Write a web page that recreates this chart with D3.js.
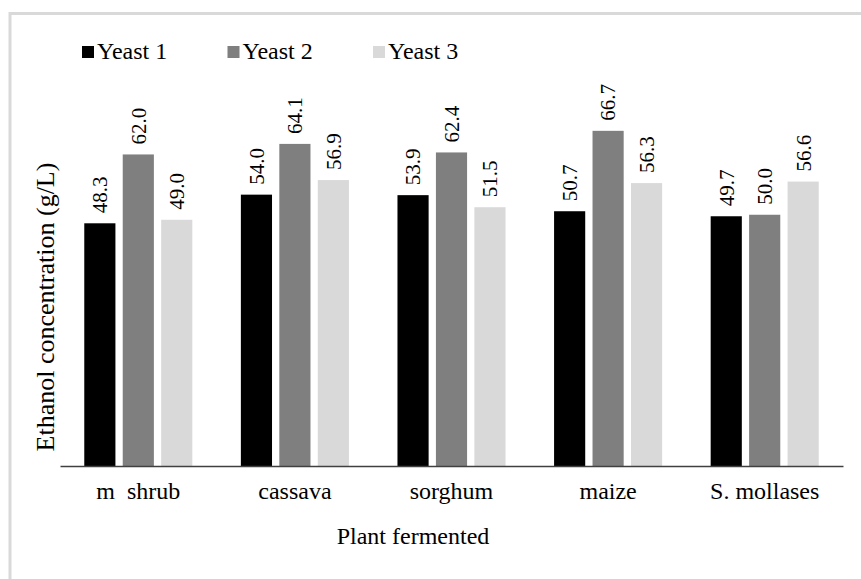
<!DOCTYPE html>
<html>
<head>
<meta charset="utf-8">
<script src="https://cdn.jsdelivr.net/npm/d3@7/dist/d3.min.js"></script>
<style>
  body { margin: 0; background: #fff; }
  svg text { font-family: "Liberation Serif", "DejaVu Serif", serif !important; fill: #000; }
</style>
</head>
<body>
<div class="container"></div>
<script>
const plants = ["m  shrub", "cassava", "sorghum", "maize", "S. mollases"]
const yeasts = ["Yeast 1", "Yeast 2", "Yeast 3"]
const yeast1 = [48.3, 54.0, 53.9, 50.7, 49.7]
const yeast2 = [62.0, 64.1, 62.4, 66.7, 50.0]
const yeast3 = [49.0, 56.9, 51.5, 56.3, 56.6]
const colors = ["#000000", "#7f7f7f", "#d9d9d9"]

const w = 861
const h = 579
const plotLeft = 60
const plotRight = 843
const plotBottom = 466
const plotTop = 64

const svg = d3.select(".container")
              .append("svg")
              .attr("width", w)
              .attr("height", h)

// chart border
svg.append("rect")
   .attr("x", 10)
   .attr("y", 13.5)
   .attr("width", 900)
   .attr("height", 700)
   .attr("fill", "none")
   .attr("stroke", "#d9d9d9")
   .attr("stroke-width", 3)

const rows = plants.map((p, i) => ({plant: p, values: [yeast1[i], yeast2[i], yeast3[i]]}))

const x0 = d3.scaleBand()
             .domain(plants)
             .range([plotLeft, plotRight])
             .paddingInner(0.31)
             .paddingOuter(0.155)

const x1 = d3.scaleBand()
             .domain(yeasts)
             .range([0, x0.bandwidth()])
             .paddingInner(0.19)

const yScale = d3.scaleLinear()
                 .domain([0, 80])
                 .range([plotBottom, plotTop])

const groups = svg.selectAll("g.group")
                  .data(rows)
                  .enter()
                  .append("g")
                  .attr("class", "group")
                  .attr("transform", d => "translate(" + x0(d.plant) + ",0)")

groups.selectAll("rect")
      .data(d => d.values.map((v, i) => ({yeast: yeasts[i], value: v, i: i})))
      .enter()
      .append("rect")
      .attr("x", d => x1(d.yeast))
      .attr("y", d => yScale(d.value))
      .attr("width", x1.bandwidth())
      .attr("height", d => plotBottom - yScale(d.value))
      .attr("fill", d => colors[d.i])

groups.selectAll("text")
      .data(d => d.values.map((v, i) => ({yeast: yeasts[i], value: v})))
      .enter()
      .append("text")
      .attr("transform", d => "translate(" + (x1(d.yeast) + x1.bandwidth() / 2) + "," + (yScale(d.value) - 10) + ") rotate(-90)")
      .attr("dy", "0.35em")
      .attr("font-size", 21)
      .text(d => d.value.toFixed(1))

// x axis
const xAxis = d3.axisBottom(x0).tickSize(0).tickPadding(16)
const gx = svg.append("g")
              .attr("transform", "translate(0," + plotBottom + ")")
              .call(xAxis)
              .attr("font-family", null)
gx.select(".domain").attr("stroke", "#404040").attr("stroke-width", 1.5)
gx.selectAll("text")
  .attr("font-size", 24)
  .attr("fill", "#000")
  .style("white-space", "pre")

svg.append("text")
   .attr("x", 413)
   .attr("y", 544)
   .attr("text-anchor", "middle")
   .attr("font-size", 24)
   .text("Plant fermented")

svg.append("text")
   .attr("transform", "translate(45,307) rotate(-90)")
   .attr("text-anchor", "middle")
   .attr("dy", "0.35em")
   .attr("font-size", 26)
   .text("Ethanol concentration (g/L)")

// legend
const legend = svg.append("g")
                  .selectAll("g")
                  .data(yeasts)
                  .enter()
                  .append("g")
                  .attr("transform", (d, i) => "translate(" + (82 + i * 145.5) + ",0)")

legend.append("rect")
      .attr("x", 0)
      .attr("y", 46)
      .attr("width", 12)
      .attr("height", 12)
      .attr("fill", (d, i) => colors[i])

legend.append("text")
      .attr("x", 15)
      .attr("y", 59)
      .attr("font-size", 24)
      .text(d => d)
</script>
</body>
</html>
